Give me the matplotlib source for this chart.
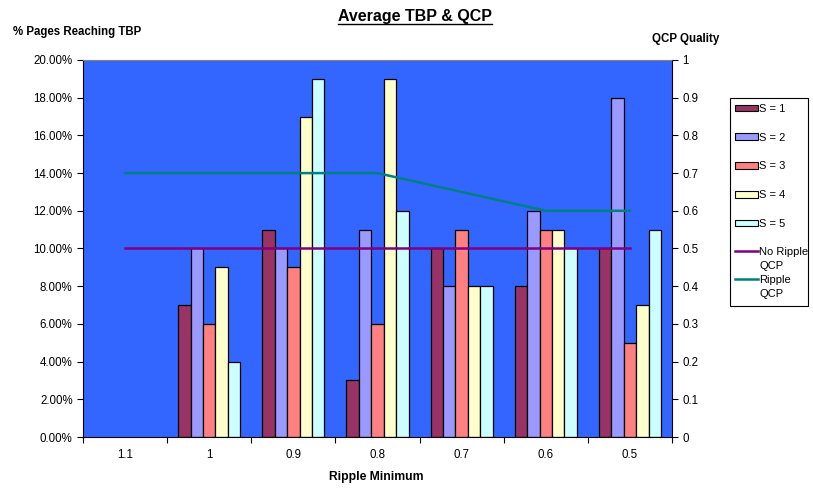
import numpy as np
import matplotlib
matplotlib.use("Agg")
import matplotlib.pyplot as plt
from matplotlib.patches import Patch, Rectangle
from matplotlib.lines import Line2D
from matplotlib.ticker import FixedLocator, FuncFormatter

plt.rcParams['font.family'] = ['Liberation Sans', 'DejaVu Sans']

categories = ["1.1", "1", "0.9", "0.8", "0.7", "0.6", "0.5"]
s1 = [np.nan, 7, 11, 3, 10, 8, 10]
s2 = [np.nan, 10, 10, 11, 8, 12, 18]
s3 = [np.nan, 6, 9, 6, 11, 11, 5]
s4 = [np.nan, 9, 17, 19, 8, 11, 7]
s5 = [np.nan, 4, 19, 12, 8, 10, 11]
no_ripple_qcp = [0.5, 0.5, 0.5, 0.5, 0.5, 0.5, 0.5]
ripple_qcp = [0.7, 0.7, 0.7, 0.7, 0.65, 0.6, 0.6]

series = [s1, s2, s3, s4, s5]
names = ["S = 1", "S = 2", "S = 3", "S = 4", "S = 5"]
colors = ["#993366", "#9999FF", "#FF8080", "#FFFFCC", "#CCFFFF"]

FS = 8.3
LFS = 8.0
fig = plt.figure(figsize=(8.13, 4.88), dpi=100)
ax = fig.add_axes([83/813, 1-437/488, (672-83)/813, (437-60)/488])
ax.set_facecolor("#3366FF")

x = np.arange(len(categories))
w = 0.148
for i, (vals, c) in enumerate(zip(series, colors)):
    ax.bar(x + (i-2)*w, np.array(vals, dtype=float)/100.0, width=w, color=c,
           edgecolor="black", linewidth=0.9, zorder=2)

ax.set_xlim(-0.5, len(categories)-0.5)
ax.set_ylim(0, 0.20)
ax.set_yticks(np.arange(0, 0.2001, 0.02))
ax.yaxis.set_major_formatter(FuncFormatter(lambda v, p: f"{v*100:.2f}%"))
ax.set_xticks(x)
ax.set_xticklabels(categories)
ax.xaxis.set_minor_locator(FixedLocator(np.arange(-0.5, len(categories), 1.0)))
ax.tick_params(axis='x', which='major', length=0, pad=8.6, labelsize=FS)
ax.tick_params(axis='x', which='minor', length=4, direction='out', width=0.8)
ax.tick_params(axis='y', length=4, direction='out', labelsize=FS, width=0.8)
for s in ["left", "bottom", "right"]:
    ax.spines[s].set_color("black")
    ax.spines[s].set_linewidth(0.8)
ax.spines["top"].set_color("#808080")

ax2 = ax.twinx()
ax2.set_ylim(0, 1)
ax2.set_yticks(np.arange(0, 1.001, 0.1))
ax2.yaxis.set_major_formatter(FuncFormatter(lambda v, p: "0" if v == 0 else ("1" if abs(v-1) < 1e-9 else f"{v:.1f}")))
ax2.tick_params(axis='y', length=4, direction='out', labelsize=FS, width=0.8)
ax2.plot(x, no_ripple_qcp, color="#800080", linewidth=1.8, zorder=3)
ax2.plot(x, ripple_qcp, color="#008080", linewidth=1.8, zorder=3)
for s in ax2.spines.values():
    s.set_visible(False)

title = fig.text(415/813, 1-16/488, "Average TBP & QCP", ha="center", va="center",
                 fontsize=11.5, fontweight="bold")
fig.text(13/813, 1-32/488, "% Pages Reaching TBP", ha="left", va="center",
         fontsize=FS, fontweight="bold")
fig.text(652/813, 1-39/488, "QCP Quality", ha="left", va="center",
         fontsize=FS, fontweight="bold")
fig.text(376/813, 1-477/488, "Ripple Minimum", ha="center", va="center",
         fontsize=8.7, fontweight="bold")

# legend: frame + two frameless legends
fig.add_artist(Rectangle((730/813, 1-306/488), 78/813, 208/488, transform=fig.transFigure,
                         fill=True, facecolor="white", edgecolor="black", linewidth=0.8))
bar_handles = [Patch(facecolor=c, edgecolor="black", linewidth=0.8) for c in colors]
leg1 = fig.legend(bar_handles, names, loc="center left", bbox_to_anchor=(735/813, 1-166.5/488),
                  frameon=False, fontsize=LFS, handlelength=2.05, handleheight=0.5,
                  handletextpad=0.15, labelspacing=1.70, borderpad=0, borderaxespad=0)
blank = Line2D([], [], color="none")
line_handles = [Line2D([], [], color="#800080", linewidth=1.8), blank,
                Line2D([], [], color="#008080", linewidth=1.8), blank]
leg2 = fig.legend(line_handles, ["No Ripple", "QCP", "Ripple", "QCP"], loc="center left",
                  bbox_to_anchor=(735/813, 1-273/488), frameon=False, fontsize=LFS,
                  handlelength=2.05, handletextpad=0.15, labelspacing=0.36,
                  borderpad=0, borderaxespad=0)

# underline title
fig.canvas.draw()
bb = title.get_window_extent(renderer=fig.canvas.get_renderer())
fw = fig.bbox.width
fig.add_artist(Line2D([bb.x0/fw, bb.x1/fw], [1-23.5/488, 1-23.5/488], color="black", linewidth=1.0))

fig.savefig("out.png", dpi=100)
